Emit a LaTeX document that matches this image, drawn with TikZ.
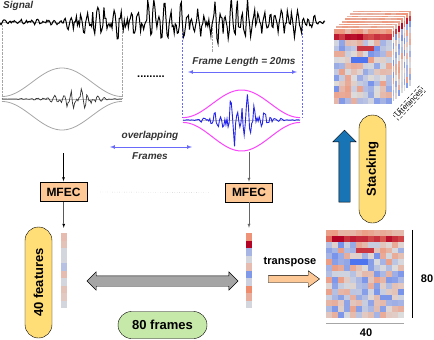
\documentclass[tikz,border=0pt]{standalone}
\usepackage{fontspec}
\setmainfont{Liberation Sans}
\usetikzlibrary{positioning,shapes.arrows}

% one heat-map cell: value in [-1,1], corner, far corner
\newcommand{\hmfill}[3]{%
  \pgfmathtruncatemacro\hmr{100*min(1,max(0,#1)/0.6)}%
  \pgfmathtruncatemacro\hmq{100-100*min(1,max(0,-(#1)))}%
  \pgfmathtruncatemacro\hms{100-100*min(1,max(0,(#1)-0.6)/0.4)}%
  \fill[hmred!\hmr!hmmid!\hmq!hmblue!\hms!hmdark] #2 rectangle #3;%
}
% heat map: x, y, columns, rows, cell width, cell height, blob column
\newcommand{\hmgrid}[7]{%
  \foreach \hrow in {1,...,#4}{
    \foreach \hcol in {1,...,#3}{
      \pgfmathsetmacro\hv{ifthenelse(\hrow==1, 0.4+0.15*rand,
        ifthenelse(\hrow==2, 0.85+0.2*rand,
        ifthenelse(and(\hrow==4, and(\hcol>=#7, \hcol<=#7+2)), 0.85,
        ifthenelse(and(\hrow==6, and(\hcol>=#7-1, \hcol<=#7+1)), -0.95,
        -0.1+0.58*rand))))}
      \hmfill{\hv}{({#1+(\hcol-1)*#5},{#2+(\hrow-1)*#6})}{++(#5,#6)}
    }
  }
}

\begin{document}
\begin{tikzpicture}[x=1pt, y=-1pt, >=latex,
  declare function={
    rise(\t)=1/(1+exp(min(9,-(\t-75)/10)));
    fall(\t)=1/(1+exp(min(9,(\t-300)/9)));
    sigenv(\t)=3+26*rise(\t)*fall(\t)*(0.75+0.25*sin(10*mod(0.5*\t,36)));
    wave(\t)=0.4*sin(10*mod(6.5*\t,36))+0.3*sin(10*mod(4.3*\t+7,36))+0.35*rand;
    hamL(\t)=0.54-0.46*cos(3*(\t-2));
    hamR(\t)=0.54-0.46*cos(3.077*(\t-183));
  },
  lbl/.style={font=\fontsize{10}{12}\selectfont\bfseries\itshape, text=black!80, inner sep=1pt},
  mfec/.style={draw, fill=boxorange, minimum width=47, minimum height=19, inner sep=0pt,
    font=\fontsize{12}{14}\selectfont\bfseries},
  pill/.style={draw, rounded corners=13.5pt, minimum height=27, inner sep=0pt,
    font=\fontsize{13}{15}\selectfont\bfseries},
  flow/.style={->, shorten >=1pt},
  guide/.style={gray!70, densely dotted},
  fguide/.style={fblue, dash pattern=on 2pt off 1.5pt},
  measure/.style={<->, fblue, line width=0.7},
  vec/.style={minimum width=6, minimum height=75, inner sep=0pt},
  dimlbl/.style={font=\fontsize{11}{13}\selectfont\bfseries}]

  \definecolor{boxorange}{RGB}{253,200,150}
  \definecolor{pillyellow}{RGB}{255,221,119}
  \definecolor{pillgreen}{RGB}{198,232,168}
  \definecolor{arrgray}{RGB}{165,165,165}
  \definecolor{stackblue}{RGB}{24,116,180}
  \definecolor{fblue}{RGB}{105,105,250}
  \definecolor{wmag}{RGB}{250,70,250}
  \definecolor{wblue}{RGB}{35,35,235}
  \definecolor{hmmid}{RGB}{221,221,221}
  \definecolor{hmred}{RGB}{240,140,110}
  \definecolor{hmdark}{RGB}{180,4,38}
  \definecolor{hmblue}{RGB}{70,110,240}

  \pgfmathsetseed{3}
  \useasboundingbox (0,0) rectangle (434,340);

  % speech signal
  \node[lbl, anchor=west] (signal) at (2,6) {Signal};
  \draw[guide] (2,25) -- (2,99);
  \draw[guide] (122,25) -- (122,99);
  \draw[guide] (212,22) -- (212,52);
  \draw[fguide] (182,22) -- (182,117);
  \draw[fguide] (302,22) -- (302,117);
  \draw[gray!60, thin] (0,22) -- (325,22);
  \draw[line width=1] plot[domain=0:325, samples=320] (\x, {22+sigenv(\x)*wave(\x)});

  % first frame, hamming window
  \draw[gray!50, thin] (2,99) -- (122,99);
  \draw[gray!70, line width=0.8] plot[domain=2:122, samples=80] (\x, {99-31*hamL(\x)});
  \draw[gray!70, line width=0.8] plot[domain=2:122, samples=80] (\x, {99+31*hamL(\x)});
  \draw[black!80, line width=0.7] plot[domain=2:122, samples=110]
    (\x, {99+hamL(\x)*(2+14*exp(-((\x-82)/22)*((\x-82)/22)))*wave(\x)});

  \node[font=\fontsize{11}{12}\selectfont\bfseries] (gap) at (151,77) {.........};

  % later frame
  \draw[gray!50, thin] (183,120) -- (300,120);
  \draw[wmag, line width=1] plot[domain=183:300, samples=80] (\x, {120-30*hamR(\x)});
  \draw[wmag, line width=1] plot[domain=183:300, samples=80] (\x, {120+31*hamR(\x)});
  \draw[wblue, line width=0.9] plot[domain=183:300, samples=110]
    (\x, {120+hamR(\x)*(3+26*exp(-((\x-240)/30)*((\x-240)/30)))*wave(\x)});

  \node[lbl] (flen) at (244,62) {Frame Length = 20ms};
  \draw[measure] (188,72) -- (297,72);
  \node[lbl] (ovl) at (150,136) {overlapping};
  \draw[measure] (110,147) -- (192,147);
  \node[lbl] (frm) at (150,156) {Frames};

  % feature extraction
  \coordinate (winL) at (63.5,153);
  \coordinate (winR) at (249,152);
  \node[mfec] (mfecL) at (63.5,192) {MFEC};
  \node[mfec] (mfecR) at (249,192.5) {MFEC};
  \node[vec] (vecL) at (64,270.5) {};
  \node[vec] (vecR) at (249,270.5) {};
  \draw[flow] (winL) -- (mfecL);
  \draw[flow, black!60] (winR) -- (mfecR);
  \draw[flow, shorten >=5pt] (mfecL) -- (vecL);
  \draw[flow, black!60, shorten >=5pt] (mfecR) -- (vecR);
  \draw[gray!60, dotted] ([xshift=13]mfecL.east) -- ([xshift=-16]mfecR.west);

  \foreach \v [count=\i] in {0.25,0.2,-0.05,-0.05,-0.25,0.25,-0.05,0.2,0.15,-0.05}
    \hmfill{\v}{(61,225.5+7.5*\i)}{++(6,7.5)};
  \foreach \v [count=\i] in {0.55,1,-0.35,-0.05,0.25,-0.6,-0.1,0.6,0.35,-0.05}
    \hmfill{\v}{(246,225.5+7.5*\i)}{++(6,7.5)};

  \node[pill, fill=pillyellow, minimum width=111, rotate=90] (nfeat) at (38.5,282.5) {40 features};
  \node[double arrow, draw, fill=arrgray, minimum height=151, inner xsep=0pt, inner ysep=5pt,
    double arrow head extend=4pt] (swap) at (162.5,281) {};
  \node[pill, fill=pillgreen, minimum width=89] (nfr) at (162.5,325) {80 frames};

  % transpose
  \node[dimlbl] (tp) at (290,262) {transpose};
  \node[single arrow, draw, fill=boxorange, minimum height=51, inner xsep=0pt, inner ysep=3.5pt,
    single arrow head extend=4.5pt, single arrow tip angle=72] (tparr) at (291.5,279) {};

  % 80 x 40 feature map
  \node[minimum width=78, minimum height=88, inner sep=0pt] (mat) at (365,274) {};
  \hmgrid{326}{230}{13}{15}{6}{5.8667}{6}
  \draw ([xshift=8]mat.north east) -- ([xshift=8]mat.south east);
  \draw[gray!70, line width=1] ([yshift=-5]mat.south west) -- ([yshift=-5]mat.south east);
  \node[dimlbl] (n80) at (427,279) {80};
  \node[dimlbl] (n40) at (366,333) {40};

  % stacking
  \node[pill, fill=pillyellow, minimum width=108, rotate=90] (stk) at (372.5,169) {Stacking};
  \node[single arrow, draw, fill=stackblue, minimum height=72, inner xsep=0pt, inner ysep=5.5pt,
    single arrow head extend=6pt, rotate=90] (up) at (344.5,169) {};

  \foreach \k in {7,...,0} {
    \hmgrid{333+2.7*\k}{28-2.6*\k}{10}{13}{5.9}{5.846}{5}
    \draw[white, line width=0.5] (333+2.7*\k, 28-2.6*\k) rectangle ++(59,76);
  }
  \node[draw, densely dashed, fill=white, rotate=47, inner sep=1.5pt, font=\fontsize{7.5}{8}\selectfont]
    (utt) at (409,103) {Utterances};

\end{tikzpicture}
\end{document}
